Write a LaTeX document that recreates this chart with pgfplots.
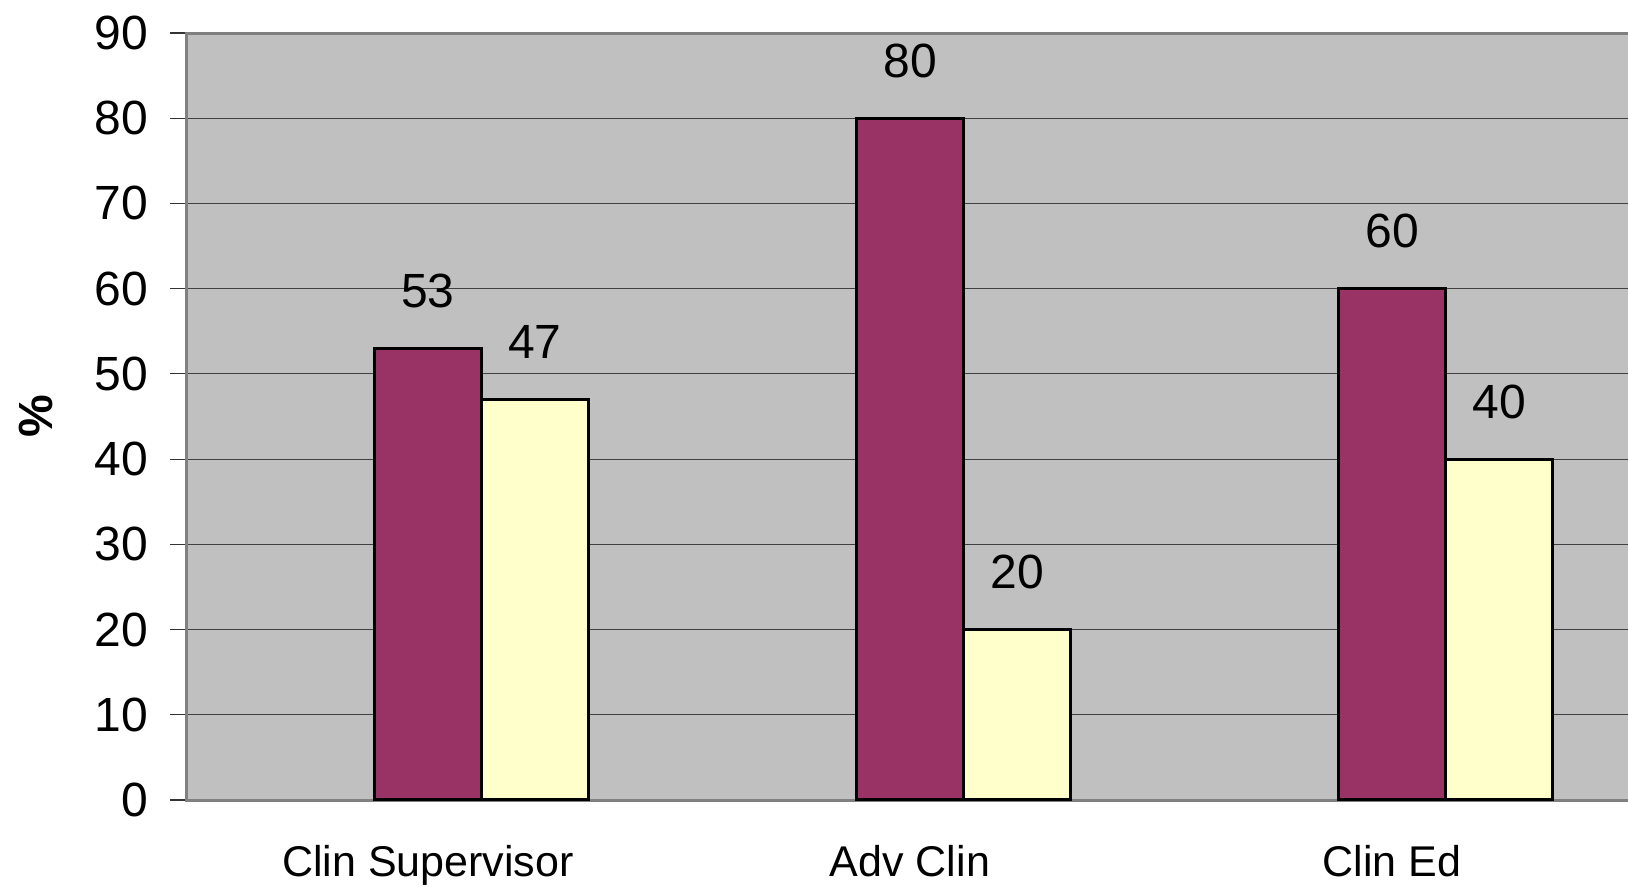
\documentclass[border=0pt]{standalone}
\usepackage{pgfplots}
\pgfplotsset{compat=1.18}
\usepackage{fontspec}
\setmainfont{Liberation Sans}
\definecolor{barA}{HTML}{993366}
\definecolor{barB}{HTML}{FFFFCC}
\definecolor{bgc}{HTML}{C0C0C0}
\definecolor{axisgray}{HTML}{808080}
\pgfplotsset{/pgf/number format/assume math mode=true}
\begin{document}
\begin{tikzpicture}
\begin{axis}[
  at={(0,0)}, anchor=south west,
  scale only axis, width=723bp, height=383.5bp,
  xmin=-0.5, xmax=2.5, ymin=0, ymax=90,
  axis background/.style={fill=bgc},
  axis line style={draw=axisgray, line width=1.5bp},
  xtick pos=left, ytick pos=left,
  tick align=outside,
  ytick={0,10,...,90},
  xtick={0,1,2},
  xticklabels={Clin Supervisor, Adv Clin, Clin Ed},
  minor xtick={-0.5,0.5,1.5,2.5},
  major tick length=8.5bp, minor tick length=7.5bp,
  xtick style={draw=none},
  minor tick style={draw=axisgray, line width=0.8bp},
  ytick style={draw=black!80, line width=0.6bp},
  ymajorgrids=true,
  major grid style={draw=black!75, line width=0.6bp},
  yticklabel style={font=\fontsize{24bp}{24bp}\selectfont, inner sep=0pt, xshift=-10.8bp, anchor=east},
  xticklabel style={font=\fontsize{21.5bp}{21.5bp}\selectfont, inner sep=0pt, anchor=north, yshift=-14bp},
  ylabel={\%},
  ylabel style={at={(axis description cs:0,0.5)}, anchor=center, yshift=75.5bp, font=\fontsize{24bp}{24bp}\selectfont\bfseries},
  nodes near coords,
  every node near coord/.append style={font=\fontsize{24bp}{24bp}\selectfont, anchor=south, inner sep=0pt, yshift=19.5bp, text=black},
]
\addplot[ybar, bar shift=0pt, bar width=0.222, fill=barA, draw=black, line width=1.6bp]
  coordinates {(0,53) (1,80) (2,60)};
\addplot[ybar, bar shift=0pt, bar width=0.222, fill=barB, draw=black, line width=1.6bp]
  coordinates {(0.222,47) (1.222,20) (2.222,40)};
\end{axis}
\pgfresetboundingbox
\path[use as bounding box] (-93.5bp,-43.5bp) rectangle (720.5bp,400bp);
\end{tikzpicture}
\end{document}
